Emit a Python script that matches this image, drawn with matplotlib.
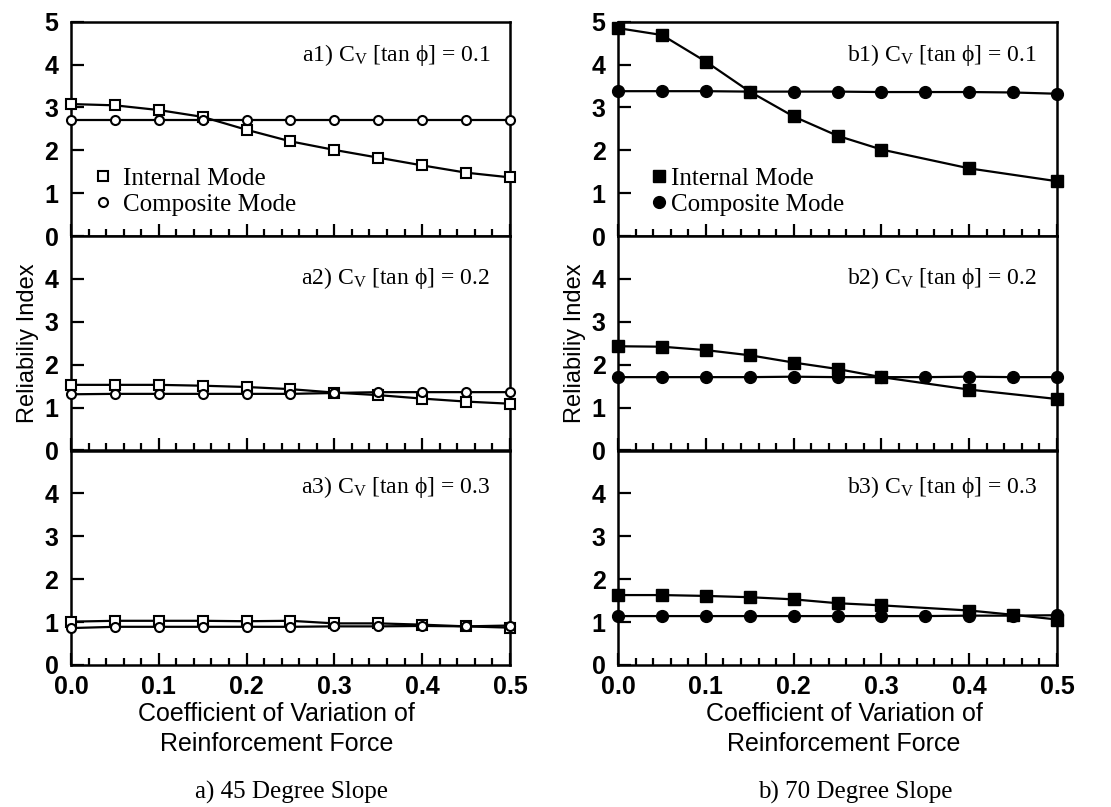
import numpy as np
import matplotlib
matplotlib.use('Agg')
import matplotlib.pyplot as plt
from matplotlib.ticker import MultipleLocator, FormatStrFormatter
from matplotlib.lines import Line2D

plt.rcParams['font.family'] = 'Liberation Sans'
plt.rcParams['mathtext.fontset'] = 'custom'
plt.rcParams['mathtext.rm'] = 'Liberation Serif'
plt.rcParams['mathtext.it'] = 'Liberation Serif:italic'

# data
cov_all = [0.0, 0.05, 0.1, 0.15, 0.2, 0.25, 0.3, 0.35, 0.4, 0.45, 0.5]
cov_b12 = [0.0, 0.05, 0.1, 0.15, 0.2, 0.25, 0.3, 0.4, 0.5]
cov_b3 = [0.0, 0.05, 0.1, 0.15, 0.2, 0.25, 0.3, 0.4, 0.45, 0.5]

# 45 degree slope
a1_internal = [3.08, 3.05, 2.94, 2.78, 2.48, 2.21, 2.01, 1.83, 1.65, 1.48, 1.37]
a1_composite = [2.70, 2.70, 2.70, 2.70, 2.70, 2.70, 2.70, 2.70, 2.70, 2.70, 2.70]
a2_internal = [1.53, 1.53, 1.53, 1.51, 1.48, 1.43, 1.35, 1.29, 1.21, 1.14, 1.09]
a2_composite = [1.31, 1.32, 1.32, 1.32, 1.32, 1.32, 1.34, 1.36, 1.36, 1.36, 1.36]
a3_internal = [1.01, 1.03, 1.03, 1.03, 1.02, 1.03, 0.97, 0.97, 0.94, 0.90, 0.87]
a3_composite = [0.86, 0.89, 0.89, 0.89, 0.89, 0.89, 0.90, 0.90, 0.91, 0.90, 0.92]

# 70 degree slope
b1_internal = [4.85, 4.69, 4.07, 3.37, 2.79, 2.34, 2.02, 1.58, 1.28]
b1_composite = [3.38, 3.38, 3.38, 3.37, 3.37, 3.37, 3.36, 3.36, 3.36, 3.35, 3.32]
b2_internal = [2.43, 2.42, 2.34, 2.22, 2.05, 1.90, 1.71, 1.42, 1.20]
b2_composite = [1.71, 1.71, 1.71, 1.71, 1.72, 1.71, 1.71, 1.71, 1.72, 1.71, 1.71]
b3_internal = [1.63, 1.63, 1.61, 1.58, 1.53, 1.44, 1.39, 1.27, 1.17, 1.06]
b3_composite = [1.14, 1.14, 1.14, 1.14, 1.14, 1.14, 1.14, 1.14, 1.15, 1.15, 1.16]

cv_tan = [0.1, 0.2, 0.3]
captions = ['a) 45 Degree Slope', 'b) 70 Degree Slope']

panels = [
    [(cov_all, a1_internal, a1_composite), (cov_all, a2_internal, a2_composite), (cov_all, a3_internal, a3_composite)],
    [(cov_b12, b1_internal, b1_composite), (cov_b12, b2_internal, b2_composite), (cov_b3, b3_internal, b3_composite)],
]

fig = plt.figure(figsize=(11.11, 8.07), dpi=100)

lefts = [0.0639, 0.5563]
width = 0.3951
bottoms = [0.7074, 0.4418, 0.1760]
height = 0.2657
xlabel_x = [0.468, 0.515]
caption_x = [0.262, 0.770]
label_y = [0.845, 0.805, 0.83]

for col in range(2):
    filled = col == 1
    prefix = 'ab'[col]
    if filled:
        sq = dict(marker='s', markersize=9, markerfacecolor='black', markeredgecolor='black')
        ci = dict(marker='o', markersize=8.5, markerfacecolor='black', markeredgecolor='black')
    else:
        sq = dict(marker='s', markersize=7, markerfacecolor='white', markeredgecolor='black', markeredgewidth=1.5)
        ci = dict(marker='o', markersize=6.5, markerfacecolor='white', markeredgecolor='black', markeredgewidth=1.5)
    for row in range(3):
        ax = fig.add_axes([lefts[col], bottoms[row], width, height])
        x_int, y_int, y_comp = panels[col][row]
        ax.plot(x_int, y_int, color='black', lw=1.6, clip_on=False, zorder=3, **sq)
        ax.plot(cov_all, y_comp, color='black', lw=1.6, clip_on=False, zorder=4, **ci)

        ax.set_xlim(0, 0.5)
        ax.set_ylim(0, 5)
        ax.xaxis.set_major_locator(MultipleLocator(0.1))
        ax.xaxis.set_minor_locator(MultipleLocator(0.02))
        ax.xaxis.set_major_formatter(FormatStrFormatter('%.1f'))
        if row == 0:
            ax.set_yticks([0, 1, 2, 3, 4, 5])
        else:
            ax.set_yticks([0, 1, 2, 3, 4])
        ax.tick_params(axis='both', which='major', direction='in', length=9, width=1.6,
                       labelsize=18, top=False, right=False)
        ax.tick_params(axis='y', pad=9)
        ax.tick_params(axis='x', which='minor', direction='in', length=5, width=1.6, top=False)
        for lab in ax.get_yticklabels() + ax.get_xticklabels():
            lab.set_fontweight('bold')
        if row < 2:
            ax.tick_params(axis='x', labelbottom=False)
        else:
            ax.tick_params(axis='x', pad=7)
            ax.set_xlabel('Coefficient of Variation of\nReinforcement Force', fontsize=18,
                          linespacing=1.3)
            ax.xaxis.set_label_coords(xlabel_x[col], -0.172)
        for s in ax.spines.values():
            s.set_linewidth(1.8)

        ax.text(0.955, label_y[row], prefix + str(row + 1) + r') C$_{\mathrm{V}}$ [tan ϕ] = ' + str(cv_tan[row]),
                transform=ax.transAxes, ha='right', va='center', fontsize=17,
                family='Liberation Serif')

        if row == 1:
            ax.set_ylabel('Reliabiliy Index', fontsize=17, labelpad=4)
        if row == 0:
            handles = [Line2D([], [], linestyle='none', **sq), Line2D([], [], linestyle='none', **ci)]
            ax.legend(handles, ['Internal Mode', 'Composite Mode'], loc='lower left',
                      bbox_to_anchor=(0.01 if not filled else 0.03, 0.012), frameon=False,
                      prop={'family': 'Liberation Serif', 'size': 18}, handlelength=0.8,
                      handletextpad=0.4 if not filled else 0.1, labelspacing=0.15, borderaxespad=0.3)

    fig.text(caption_x[col], 0.004, captions[col], ha='center', va='bottom',
             fontsize=18, family='Liberation Serif')

fig.savefig('out.png', dpi=100)
